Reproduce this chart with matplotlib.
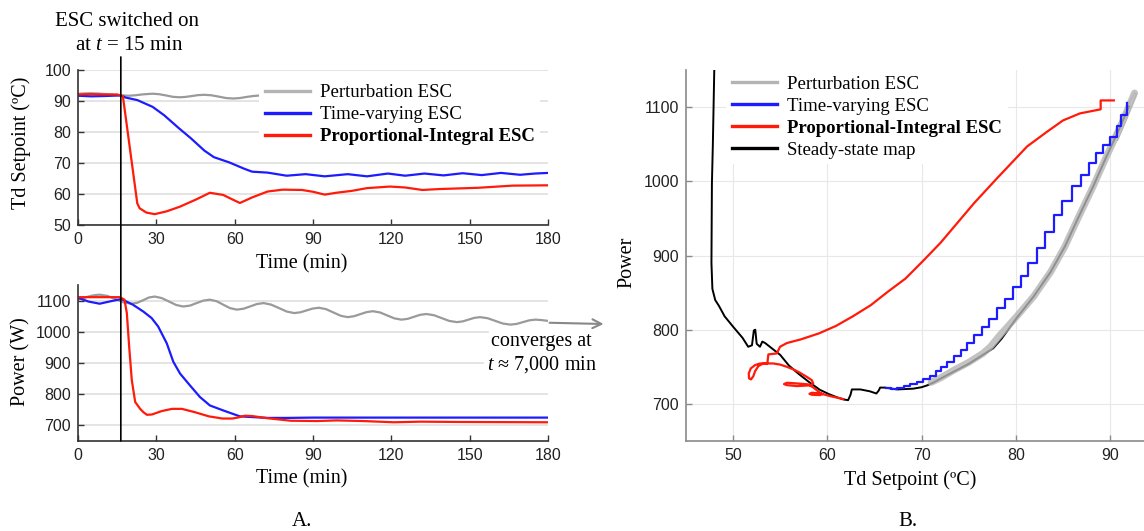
import matplotlib
matplotlib.use('Agg')
import matplotlib.pyplot as plt
from matplotlib.patches import ConnectionPatch

plt.rcParams['font.family'] = ['Liberation Serif', 'DejaVu Serif']
plt.rcParams['mathtext.fontset'] = 'custom'
plt.rcParams['mathtext.rm'] = 'Liberation Serif'
plt.rcParams['mathtext.it'] = 'Liberation Serif:italic'

# ---------------- data ----------------
series_names = ['Perturbation ESC', 'Time-varying ESC', 'Proportional-Integral ESC', 'Steady-state map']
esc_on_time = 16.4

# Panel A top: Td setpoint vs time
pert_td_t = [0, 2.5, 5, 8, 11, 14, 17, 19.5, 22, 25, 28.6, 31, 33.7, 36.3, 38.8, 41, 43.6, 46, 48.4, 51, 54,
             56.7, 59.4, 62, 64.5, 67, 70, 72]
pert_td = [92.3, 92.45, 92.5, 92.4, 92.2, 92.0, 91.8, 91.7, 91.85, 92.15, 92.35, 92.2, 91.8, 91.35, 91.2, 91.3,
           91.6, 91.9, 92.0, 91.85, 91.4, 90.95, 90.8, 90.95, 91.3, 91.6, 91.8, 91.9]

tv_td_t = [0, 5, 10, 16.4, 18.3, 22.7, 28.6, 33, 38.8, 43.2, 48.4, 52, 57.9, 63.8, 66.7, 72.6, 79.9, 87.2,
           94.5, 103.3, 110.7, 118.7, 125.3, 132.7, 140, 147.3, 154.6, 162, 169.3, 175, 180]
tv_td = [91.7, 91.5, 91.6, 91.8, 91.1, 90.3, 88.1, 85.4, 81.1, 78.0, 74.0, 71.9, 70.2, 68.1, 67.2, 66.9, 65.9, 66.4,
         65.7, 66.4, 65.7, 66.6, 65.9, 66.6, 66.0, 66.7, 66.1, 66.8, 66.2, 66.6, 66.8]

pi_td_t = [0, 5, 10, 15, 17.2, 22.7, 23.6, 26.2, 29.4, 33.9, 39, 45.4, 50.5, 55.6, 59, 62, 66.7, 72.6, 78.4,
           85.8, 90.1, 94.5, 98.9, 104.8, 110.7, 119.5, 125.3, 131.9, 138.5, 153.2, 166.4, 180]
pi_td = [92.1, 92.2, 92.1, 92.1, 91.5, 57.0, 55.4, 54.0, 53.5, 54.4, 55.9, 58.3, 60.4, 59.7, 58.3, 57.1, 58.9, 60.8,
         61.4, 61.3, 60.7, 59.8, 60.4, 61.0, 61.9, 62.4, 62.1, 61.3, 61.6, 62.0, 62.7, 62.8]

# Panel A bottom: power vs time
pert_p_t = [0, 2, 4, 6, 8.3, 11.3, 14.4, 17.5, 20.5, 22.7, 25, 27.2, 29.4, 32.1, 34.85, 37.6, 40.3, 42.9, 45.4,
            48, 50.5, 53.1, 55.6, 58.2, 60.8, 63.4, 66, 68.5, 71.1, 74, 77, 79.9, 82.8, 85.2, 87.5, 89.9, 92.3,
            95, 97.8, 100.6, 103.3, 105.7, 108.1, 110.5, 112.9, 115.7, 118.4, 121.2, 123.9, 126.3, 128.65, 131,
            133.4, 136.3, 139.25, 142.2, 145.1, 147.3, 149.55, 151.8, 154, 156.9, 159.8, 162.7, 165.6, 168,
            170.4, 172.8, 175.2, 177.6, 180]
pert_p = [1103, 1108, 1113, 1117, 1119, 1115, 1104.5, 1094, 1090, 1093, 1101.5, 1110, 1113, 1108, 1097, 1086,
          1081, 1084, 1092, 1100, 1103, 1098, 1087, 1076, 1071, 1074, 1081.5, 1089, 1092, 1087, 1076, 1065, 1060,
          1062.5, 1068.5, 1074.5, 1077, 1072.6, 1062, 1051.4, 1047, 1050, 1056.5, 1063, 1066, 1062, 1052.5, 1043,
          1039, 1041.6, 1048, 1054.4, 1057, 1053.2, 1044, 1034.8, 1031, 1033.3, 1039, 1044.7, 1047, 1043.5, 1035,
          1026.5, 1023, 1025.3, 1031, 1036.7, 1039, 1037.5, 1035]

tv_p_t = [0, 4, 8.3, 12, 16.6, 21, 25, 28.2, 30.7, 34, 36.5, 39.1, 42.9, 46.7, 50.5, 55.6, 62, 66, 72.6, 80,
          90, 100, 120, 140, 160, 180]
tv_p = [1109, 1097, 1090, 1097, 1105, 1087, 1065, 1044, 1017, 963, 904, 866, 828, 791, 764, 748, 729, 727, 724,
        724, 725, 725, 725, 725, 725, 725]

pi_p_t = [0, 8, 16, 17.8, 18.7, 19.6, 20.6, 21.9, 23.8, 25.1, 26.4, 28.3, 32.1, 36, 39.8, 44.9, 50.1, 55.3,
          59.1, 61.7, 63.8, 66.7, 72.6, 81.4, 91.6, 99, 109.2, 121, 131.2, 146, 180]
pi_p = [1111, 1111, 1111, 1103, 1060, 952, 845, 775, 753, 742, 734, 735, 746, 753, 753, 742, 729, 722, 722,
        726, 731, 730, 723, 715, 714, 716, 714, 710, 712, 711, 710]

# Panel B: power vs Td setpoint
ss_td = [48.0, 47.85, 47.75, 47.7, 47.8, 48.1, 48.5, 49.1, 50.0, 51.0, 51.6, 52.0, 52.2, 52.35, 52.5, 52.85,
         53.1, 53.4, 54.1, 55.0, 55.9, 56.9, 58.0, 59.2, 60.2, 61.0, 61.7, 62.2, 62.45, 62.6, 63.5, 64.5, 65.2,
         65.45, 65.6, 66.1, 67.4, 69.1, 70.0, 70.6, 71.3, 72.0, 73.5, 75.0, 76.5, 77.6, 78.5, 80.1, 81.9, 83.7,
         85.2, 86.7, 88.2, 89.6, 91.1, 92.0]
ss_p = [1150, 1050, 997, 890, 855, 840, 832, 818, 804, 789, 777, 779, 799, 800, 781, 777, 784, 782, 775, 766,
        752, 741, 730, 719, 713, 709, 706, 705, 712, 719.5, 719.5, 717, 714, 718, 722, 722, 719.5, 720.5, 722.5,
        725, 729, 734, 744, 754, 766, 775, 788, 816, 845, 878, 912, 953, 993, 1033, 1074, 1101]

pert_map_td = [71.0, 72.0, 73.5, 75.0, 76.5, 77.3, 78.2, 80.1, 81.9, 83.7, 85.2, 86.7, 88.2, 89.6, 91.1, 92.0, 92.6]
pert_map_p = [729, 735, 746, 756, 768, 777, 791, 818, 845, 878, 912, 953, 993, 1033, 1074, 1101, 1119]
pert_loop_td = [90.0, 91.0, 92.0, 92.6, 92.8, 92.5, 91.8, 90.8]
pert_loop_p = [1050, 1080, 1105, 1119, 1118, 1108, 1085, 1055]

tv_map_td = [91.8, 91.2, 90.7, 90.0, 89.3, 88.5, 87.8, 86.9, 85.95, 84.95, 84.0, 83.1, 82.2, 81.3, 80.5, 79.7,
             78.9, 78.0, 77.2, 76.4, 75.6, 74.8, 74.2, 73.4, 72.7, 72.1, 71.5, 70.9, 70.2, 69.5, 68.8, 68.1,
             67.4, 66.8, 66.2]
tv_map_p = [1105, 1090, 1075, 1060, 1049, 1038, 1024, 1009, 994, 973, 955, 932, 910, 890, 872, 858, 842, 829,
            815, 804, 793, 782, 773, 765, 757, 750, 744, 738, 734, 730, 727, 724, 722, 720.5, 721]

pi_map_td = [90.4, 89.0, 89.0, 86.8, 85.0, 83.3, 81.2, 78.0, 75.6, 73.8, 72.0, 70.1, 68.3, 66.4, 64.6, 62.7,
             60.9, 59.1, 57.2, 55.7, 54.98, 54.63, 53.74, 53.63, 52.86, 52.33, 51.87, 51.66, 51.69, 51.9, 52.15,
             52.33, 52.68, 53.2, 54.27, 54.98, 55.7, 56.4, 57.1, 57.8, 58.35, 58.5, 58.2, 56.75, 55.7, 55.4,
             55.7, 56.75, 57.98, 58.5, 58.87, 59.22, 59.5, 59.22, 58.35, 58.1, 58.35, 59.22, 60.3, 61.7]
pi_map_p = [1109, 1109, 1097, 1091.5, 1082, 1066.7, 1047, 1004, 971, 944, 917, 892, 869, 851, 833, 818, 805,
            795, 787, 782, 777, 768, 766.7, 754.5, 754.5, 752.3, 747.8, 741, 734.4, 733, 737.5, 744, 751, 754.5,
            754.5, 753, 750, 746.5, 742, 736.5, 732, 727.6, 725, 724, 725.3, 726.7, 728.5, 727.6, 726.3, 722.2,
            718.6, 715, 713.2, 711.9, 712.3, 713.6, 715, 714.2, 710.5, 706.5]

time_ticks = [0, 30, 60, 90, 120, 150, 180]
td_ticks = [50, 60, 70, 80, 90, 100]
power_ticks_a = [700, 800, 900, 1000, 1100]
map_xticks = [50, 60, 70, 80, 90]
map_yticks = [700, 800, 900, 1000, 1100]

# ---------------- style ----------------
C_GREY = '#9a9a9a'
C_GREY_B = '#b4b4b4'
C_BLUE = '#1c1cff'
C_RED = '#ff1a0a'
C_BLACK = '#000000'
GRID = '#e2e2e2'

W, H = 1144, 531
fig = plt.figure(figsize=(W / 100, H / 100), dpi=100)


def rect(l, t, r, b):
    return [l / W, 1 - b / H, (r - l) / W, (b - t) / H]


ax1 = fig.add_axes(rect(78, 70, 548, 225))
ax2 = fig.add_axes(rect(78, 285, 548, 441))
ax3 = fig.add_axes(rect(686, 70, 1144, 441))


def style_axes(ax, spine_color, grid_axis, grid_color, grid_lw):
    for s in ['top', 'right']:
        ax.spines[s].set_visible(False)
    for s in ['left', 'bottom']:
        ax.spines[s].set_color(spine_color)
        ax.spines[s].set_linewidth(1.2)
    ax.tick_params(direction='in', length=4, width=1.0, color=spine_color,
                   labelsize=11.5, labelcolor='#222222', pad=5)
    ax.grid(True, axis=grid_axis, color=grid_color, lw=grid_lw)
    ax.set_axisbelow(True)
    for lbl in ax.get_xticklabels() + ax.get_yticklabels():
        lbl.set_fontfamily('Liberation Sans')


lw = 1.6
# top-left
ax1.plot(pert_td_t, pert_td, color=C_GREY, lw=lw)
ax1.plot(tv_td_t, tv_td, color=C_BLUE, lw=lw)
ax1.plot(pi_td_t, pi_td, color=C_RED, lw=lw)
ax1.set_xlim(0, 180)
ax1.set_ylim(50, 100)
ax1.set_xticks(time_ticks)
ax1.set_yticks(td_ticks)
style_axes(ax1, '#333333', 'y', GRID, 1.3)

# bottom-left
ax2.plot(pert_p_t, pert_p, color=C_GREY, lw=lw)
ax2.plot(tv_p_t, tv_p, color=C_BLUE, lw=lw)
ax2.plot(pi_p_t, pi_p, color=C_RED, lw=lw)
ax2.set_xlim(0, 180)
ax2.set_ylim(650, 1150)
ax2.set_xticks(time_ticks)
ax2.set_yticks(power_ticks_a)
style_axes(ax2, '#333333', 'y', GRID, 1.3)

# right
ax3.plot(ss_td, ss_p, color=C_BLACK, lw=1.4, zorder=2)
ax3.plot(pert_map_td, pert_map_p, color=C_GREY_B, lw=5, alpha=0.8, solid_capstyle='round', zorder=3)
ax3.plot(pert_loop_td, pert_loop_p, color=C_GREY_B, lw=0.8, zorder=3)
ax3.plot(tv_map_td, tv_map_p, color=C_BLUE, lw=1.6, drawstyle='steps-pre', zorder=4)
ax3.plot(pi_map_td, pi_map_p, color=C_RED, lw=1.6, zorder=5)
ax3.set_xlim(45, 93.6)
ax3.set_ylim(650, 1150)
ax3.set_xticks(map_xticks)
ax3.set_yticks(map_yticks)
style_axes(ax3, '#8a8a8a', 'both', '#e8e8e8', 0.8)

# legends
h_grey = plt.Line2D([], [], color=C_GREY_B, lw=2.4)
h_blue = plt.Line2D([], [], color=C_BLUE, lw=2.4)
h_red = plt.Line2D([], [], color=C_RED, lw=2.4)
h_black = plt.Line2D([], [], color=C_BLACK, lw=2.4)

leg_kw = dict(fontsize=13.5, handlelength=2.4, handletextpad=0.55, labelspacing=0.26,
              borderpad=0.3, borderaxespad=0, frameon=True, facecolor='white',
              edgecolor='none', framealpha=1, fancybox=False, loc='upper left')
leg1 = ax1.legend([h_grey, h_blue, h_red], series_names[:3], bbox_to_anchor=(0.385, 0.945), **leg_kw)
leg1.get_texts()[2].set_fontweight('bold')
leg3 = ax3.legend([h_grey, h_blue, h_red, h_black], series_names, bbox_to_anchor=(0.088, 1.0), **leg_kw)
leg3.get_texts()[2].set_fontweight('bold')
leg3.set_zorder(10)

# labels
LAB = 14.5
ax1.set_xlabel('Time (min)', fontsize=LAB)
ax1.xaxis.set_label_coords((302 - 78) / 470, -(264 - 225) / 155, transform=ax1.transAxes)
ax2.set_xlabel('Time (min)', fontsize=LAB)
ax2.xaxis.set_label_coords((302 - 78) / 470, -(479 - 441) / 156, transform=ax2.transAxes)
ax1.set_ylabel('Td Setpoint (ºC)', fontsize=LAB)
ax1.yaxis.set_label_coords(-(78 - 21) / 470, (225 - 143) / 155, transform=ax1.transAxes)
ax2.set_ylabel('Power (W)', fontsize=LAB)
ax2.yaxis.set_label_coords(-(78 - 21) / 470, (441 - 362) / 156, transform=ax2.transAxes)
ax3.set_xlabel('Td Setpoint (ºC)', fontsize=LAB)
ax3.xaxis.set_label_coords((910 - 686) / 458, -(480 - 441) / 371, transform=ax3.transAxes)
ax3.set_ylabel('Power', fontsize=LAB)
ax3.yaxis.set_label_coords(-(686 - 627) / 458, (441 - 262) / 371, transform=ax3.transAxes)
for a in (ax1, ax2, ax3):
    a.xaxis.label.set_va('center')
    a.yaxis.label.set_va('center')

fig.text(127 / W, 1 - 21 / H, 'ESC switched on', fontsize=15, ha='center', va='center')
fig.text(129 / W, 1 - 45 / H, 'at $t$ = 15 min', fontsize=15, ha='center', va='center')
fig.text(302 / W, 1 - 521 / H, 'A.', fontsize=15, ha='center', va='center')
fig.text(908 / W, 1 - 521 / H, 'B.', fontsize=15, ha='center', va='center')

# vertical ESC-on line across both left panels
con = ConnectionPatch(xyA=(esc_on_time, 104.2), coordsA=ax1.transData,
                      xyB=(esc_on_time, 650), coordsB=ax2.transData,
                      color='black', lw=1.2, zorder=6)
fig.add_artist(con)

# convergence annotation
ax2.annotate('', xy=(201.3, 1025), xytext=(180.6, 1029), xycoords='data',
             arrowprops=dict(arrowstyle='->', color='#888888', lw=1.5, shrinkA=0, shrinkB=0,
                             mutation_scale=16),
             annotation_clip=False)
bb = dict(facecolor='white', edgecolor='none', pad=2)
ax2.text((542 - 78.3) / 2.611, 1100 - (341.7 - 301) / 0.31, 'converges at', fontsize=14.5,
         ha='center', va='center', bbox=bb, clip_on=False, zorder=7)
ax2.text((542 - 78.3) / 2.611, 1100 - (365 - 301) / 0.31, '$t$ ≈ 7,000 min', fontsize=14.5,
         ha='center', va='center', bbox=bb, clip_on=False, zorder=7)

fig.savefig('out.png', dpi=100)
